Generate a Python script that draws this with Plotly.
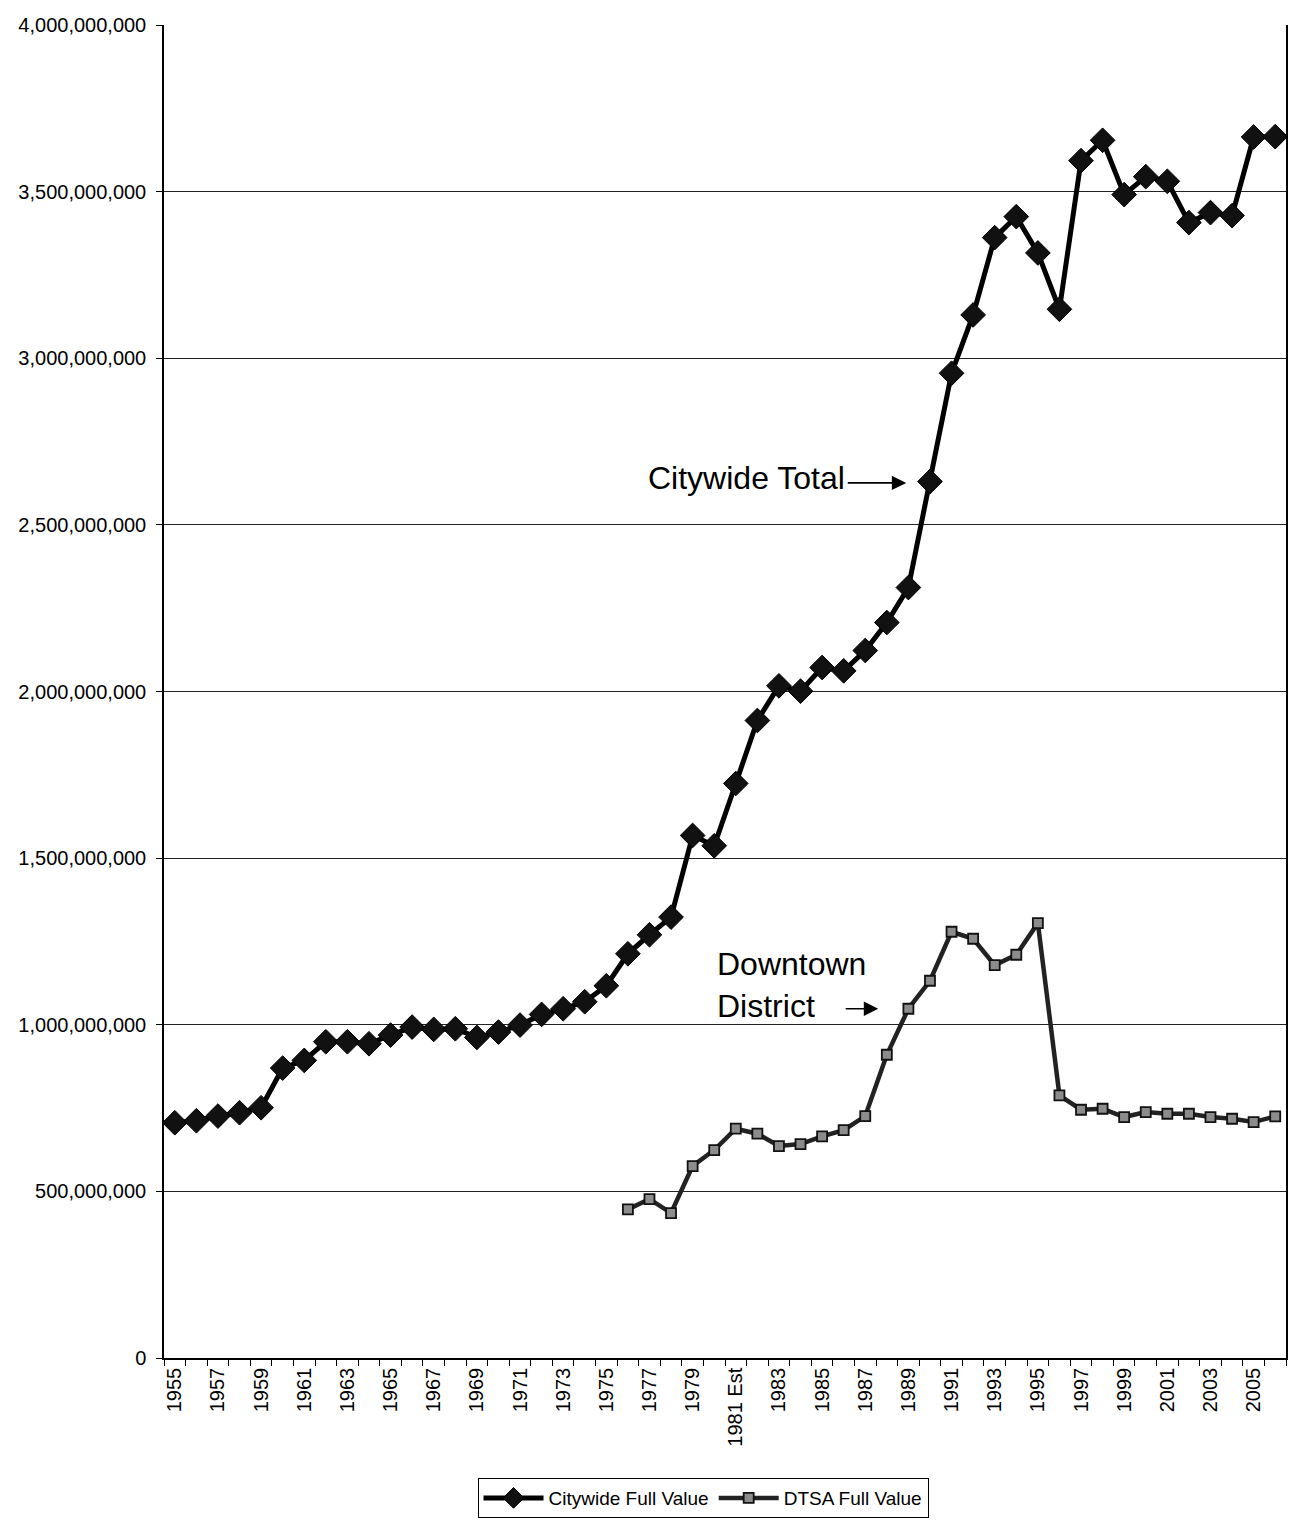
import plotly.graph_objects as go

categories = ["1955", "1956", "1957", "1958", "1959", "1960", "1961", "1962", "1963", "1964",
              "1965", "1966", "1967", "1968", "1969", "1970", "1971", "1972", "1973", "1974",
              "1975", "1976", "1977", "1978", "1979", "1980", "1981 Est", "1982", "1983", "1984",
              "1985", "1986", "1987", "1988", "1989", "1990", "1991", "1992", "1993", "1994",
              "1995", "1996", "1997", "1998", "1999", "2000", "2001", "2002", "2003", "2004",
              "2005", "2006"]

citywide = [706e6, 712e6, 726e6, 736e6, 751e6, 870e6, 893e6, 949e6, 949e6, 943e6,
            969e6, 993e6, 986e6, 988e6, 962e6, 978e6, 999e6, 1031e6, 1048e6, 1069e6,
            1117e6, 1213e6, 1270e6, 1323e6, 1568e6, 1537e6, 1724e6, 1913e6, 2017e6, 2001e6,
            2072e6, 2062e6, 2123e6, 2207e6, 2312e6, 2630e6, 2955e6, 3130e6, 3362e6, 3425e6,
            3316e6, 3147e6, 3593e6, 3654e6, 3491e6, 3545e6, 3531e6, 3407e6, 3437e6, 3428e6,
            3664e6, 3665e6]

dtsa_categories = categories[21:]
dtsa = [446e6, 477e6, 435e6, 576e6, 624e6, 688e6, 673e6, 636e6, 642e6, 665e6,
        684e6, 726e6, 910e6, 1048e6, 1132e6, 1279e6, 1258e6, 1179e6, 1210e6, 1305e6,
        788e6, 745e6, 748e6, 723e6, 738e6, 733e6, 733e6, 723e6, 718e6, 708e6, 725e6]

tick_text = [c if i % 2 == 0 else "" for i, c in enumerate(categories)]

FONT = "Arial, Liberation Sans, sans-serif"

fig = go.Figure()
fig.add_trace(go.Scatter(
    x=categories, y=citywide, name="Citywide Full Value", mode="lines+markers",
    line=dict(color="black", width=5),
    marker=dict(symbol="diamond", size=19, color="#111111", line=dict(color="black", width=1)),
))
fig.add_trace(go.Scatter(
    x=dtsa_categories, y=dtsa, name="DTSA Full Value", mode="lines+markers",
    line=dict(color="#222222", width=4.5),
    marker=dict(symbol="square", size=10, color="#8c8c8c", line=dict(color="#111111", width=1.8)),
))

fig.update_layout(
    width=1304, height=1521,
    margin=dict(l=156, r=26, t=17, b=171, autoexpand=False),
    paper_bgcolor="white", plot_bgcolor="white",
    font=dict(family=FONT, color="black", size=20),
    showlegend=True,
    legend=dict(orientation="h", xref="container", yref="container",
                x=0.533, xanchor="center", y=0.0335, yanchor="top",
                bordercolor="black", borderwidth=1, font=dict(size=19),
                itemsizing="trace", itemwidth=60, tracegroupgap=0),
    xaxis=dict(
        type="category", categoryorder="array", categoryarray=categories,
        range=[-0.5, len(categories) - 0.5], automargin=False,
        tickmode="array", tickvals=categories, ticktext=tick_text,
        tickangle=-90, tickson="boundaries", ticks="outside", ticklen=6,
        tickcolor="black", showline=True, linecolor="black", linewidth=1.5,
        showgrid=False, tickfont=dict(size=20),
    ),
    yaxis=dict(
        range=[0, 4e9], dtick=5e8, tick0=0, tickformat=",d", automargin=False,
        ticks="outside", ticklen=6, tickcolor="black", ticklabelstandoff=6,
        showline=True, linecolor="black", linewidth=1.5, mirror=True,
        showgrid=True, gridcolor="#222222", gridwidth=1, zeroline=False,
        tickfont=dict(size=20),
    ),
)

# "Citywide Total" label with arrow
fig.add_annotation(x=31.15, y=2.64e9, xref="x", yref="y", text="Citywide Total",
                   showarrow=False, xanchor="right", yanchor="middle",
                   font=dict(size=32, family=FONT, color="black"))
fig.add_annotation(x=33.9, y=2.626e9, xref="x", yref="y", text="", showarrow=True,
                   ax=-60, ay=0, arrowhead=2, arrowsize=1.8, arrowwidth=1.6, arrowcolor="black")

# "Downtown District" label with arrow
fig.add_annotation(x=25.05, y=1.12e9, xref="x", yref="y", text="Downtown<br>District",
                   showarrow=False, xanchor="left", yanchor="middle", align="left",
                   font=dict(size=32, family=FONT, color="black"))
fig.add_annotation(x=32.6, y=1.048e9, xref="x", yref="y", text="", showarrow=True,
                   ax=-34, ay=0, arrowhead=2, arrowsize=1.8, arrowwidth=1.6, arrowcolor="black")

fig.write_html("out.html")
